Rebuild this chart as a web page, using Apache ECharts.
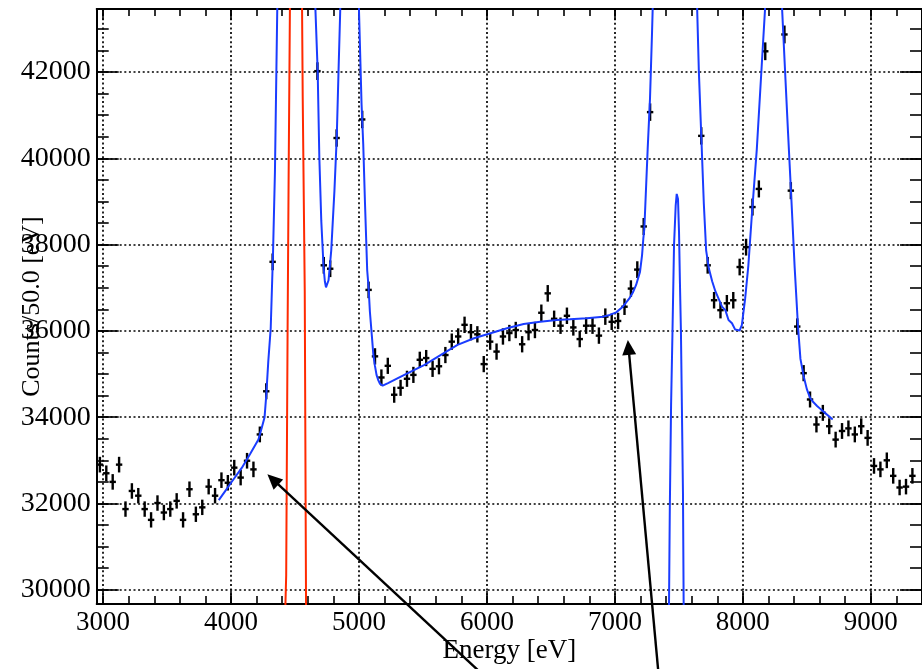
<!DOCTYPE html>
<html>
<head>
<meta charset="utf-8">
<title>Energy spectrum fit</title>
<script src="https://cdn.jsdelivr.net/npm/echarts@6.0.0/dist/echarts.min.js"></script>
<style>
  html, body { margin: 0; padding: 0; background: #ffffff; }
  #chart { width: 922px; height: 669px; }
</style>
</head>
<body>
<div id="chart"></div>
<script>
// ---- Histogram: bin centres [eV] and counts per 50 eV bin (null = above the plotted range)
const binWidth = 50;
const energies = [
  2975, 3025, 3075, 3125, 3175, 3225, 3275, 3325, 3375, 3425,
  3475, 3525, 3575, 3625, 3675, 3725, 3775, 3825, 3875, 3925,
  3975, 4025, 4075, 4125, 4175, 4225, 4275, 4325, 4375, 4425,
  4475, 4525, 4575, 4625, 4675, 4725, 4775, 4825, 4875, 4925,
  4975, 5025, 5075, 5125, 5175, 5225, 5275, 5325, 5375, 5425,
  5475, 5525, 5575, 5625, 5675, 5725, 5775, 5825, 5875, 5925,
  5975, 6025, 6075, 6125, 6175, 6225, 6275, 6325, 6375, 6425,
  6475, 6525, 6575, 6625, 6675, 6725, 6775, 6825, 6875, 6925,
  6975, 7025, 7075, 7125, 7175, 7225, 7275, 7325, 7375, 7425,
  7475, 7525, 7575, 7625, 7675, 7725, 7775, 7825, 7875, 7925,
  7975, 8025, 8075, 8125, 8175, 8225, 8275, 8325, 8375, 8425,
  8475, 8525, 8575, 8625, 8675, 8725, 8775, 8825, 8875, 8925,
  8975, 9025, 9075, 9125, 9175, 9225, 9275, 9325
];
const counts = [
  32900, 32700, 32500, 32900, 31870, 32290, 32180, 31870, 31620, 32010,
  31790, 31870, 32060, 31620, 32330, 31750, 31910, 32390, 32180, 32540,
  32480, 32830, 32600, 32990, 32790, 33600, 34600, 37600, null, null,
  null, null, null, null, 42020, 37520, 37440, 40470, null, null,
  null, 40900, 36950, 35410, 34920, 35190, 34520, 34680, 34890, 34980,
  35330, 35370, 35120, 35180, 35440, 35750, 35870, 36140, 35970, 35920,
  35230, 35750, 35520, 35870, 35950, 36020, 35690, 35970, 36020, 36420,
  36870, 36280, 36120, 36350, 36080, 35810, 36120, 36120, 35890, 36330,
  36210, 36230, 36560, 36980, 37420, 38420, 41070, null, null, null,
  null, null, null, null, 40520, 37520, 36710, 36480, 36640, 36710,
  37480, 37940, 38870, 39290, 42480, null, null, 42870, 39250, 36100,
  35020, 34410, 33830, 34100, 33790, 33480, 33680, 33740, 33600, 33790,
  33520, 32870, 32790, 33000, 32640, 32370, 32390, 32640
];

// ---- Total fit function (blue), sampled; null breaks the curve
const fitEnergy = [
  3904, 3950, 4000, 4085, 4150, 4214, 4240, 4262, 4275, 4291, 4310, 4328, 4343, 4361, 4375,
  4645, 4659, 4677, 4690, 4705, 4723, 4733, 4742, 4752, 4762, 4783, 4808, 4826, 4840, 4853, 4866,
  4988, 5000, 5020, 5033, 5047, 5064, 5075, 5085, 5100, 5112, 5124, 5137, 5150, 5165, 5185, 5227,
  5300, 5382, 5512, 5640, 5770, 5899, 6028, 6157, 6287, 6416, 6545, 6648, 6780, 6907, 6960, 7010,
  7062, 7113, 7140, 7165, 7196, 7212, 7222, 7230, 7256, 7274, 7290, 7295, 7302,
  7360,
  7415, 7423, 7429, 7439, 7450, 7462, 7475, 7483, 7493, 7501, 7508, 7516, 7532, 7537, 7545,
  7590,
  7635, 7643, 7656, 7675, 7695, 7713, 7734, 7760, 7785, 7837, 7863, 7888, 7915, 7940, 7955, 7975,
  7992, 8018, 8043, 8070, 8109, 8147, 8173, 8185,
  8295, 8307, 8328, 8353, 8380, 8405, 8431, 8450, 8475, 8500, 8525, 8550, 8580, 8612, 8702
];
const fitCounts = [
  32076, 32270, 32480, 32830, 33150, 33483, 33753, 34000, 34500, 35292, 36060, 37800, 39682, 43430, 46300,
  46300, 43480, 42020, 40020, 38560, 37480, 37150, 37010, 37040, 37174, 37866, 39250, 40481, 42020, 43400, 46000,
  46000, 43400, 41250, 40330, 38940, 37405, 37000, 36450, 35900, 35450, 35200, 34980, 34860, 34770, 34730, 34790,
  34900, 35022, 35213, 35444, 35675, 35829, 35945, 36060, 36160, 36214, 36251, 36267, 36290, 36330, 36370, 36429,
  36561, 36752, 36890, 37059, 37368, 37751, 38136, 38367, 40212, 41365, 42903, 43440, 45000,
  null,
  28000, 29755, 31868, 34291, 35984, 37982, 38904, 39175, 39059, 38291, 37137, 35984, 32215, 29755, 28000,
  null,
  45000, 43440, 42020, 40519, 38940, 37866, 37450, 37150, 36920, 36561, 36482, 36251, 36175, 36030, 35984, 36010,
  36136, 36752, 37520, 38674, 40212, 42133, 43440, 45500,
  45500, 43440, 42133, 40600, 39000, 37460, 36100, 35350, 34950, 34650, 34450, 34350, 34260, 34175, 33945
];

// ---- Single narrow component (red)
const peakEnergy = [4415, 4425, 4431, 4442, 4450, 4460, 4470, 4545, 4555, 4560, 4576, 4586, 4596];
const peakCounts = [27000, 29670, 30340, 36060, 39590, 43460, 46000, 46000, 43460, 41430, 36910, 29670, 27000];

// ---- Annotation arrows: tail and tip in data coordinates
const arrowTails = [[6068, 27755], [7350, 27755]];
const arrowTips = [[4284, 32676], [7101, 35790]];

// ---- Axes
const xRange = [2950, 9400];
const yRange = [29670, 43460];
const xTickValues = [3000, 4000, 5000, 6000, 7000, 8000, 9000];
const yTickValues = [30000, 32000, 34000, 36000, 38000, 40000, 42000];
const xMinorStep = 200;
const yMinorStep = 500;

const xMinorValues = [];
for (let v = 3000; v <= xRange[1]; v += xMinorStep) xMinorValues.push(v);
const yMinorValues = [];
for (let v = 30000; v <= yRange[1]; v += yMinorStep) yMinorValues.push(v);

const FONT = 'Liberation Serif';
const BLACK = '#000000';

const histData = [];
energies.forEach((e, i) => { if (counts[i] !== null) histData.push([e, counts[i]]); });
const fitData = fitEnergy.map((e, i) => [e, fitCounts[i]]);
const peakData = peakEnergy.map((e, i) => [e, peakCounts[i]]);
const arrowData = arrowTails.map((t, i) => [t[0], t[1], arrowTips[i][0], arrowTips[i][1]]);

function plainNumber(v) { return String(v); }

function frameAxis(dim, position, opts) {
  const isX = dim === 'x';
  return Object.assign({
    type: 'value',
    position: position,
    min: isX ? xRange[0] : yRange[0],
    max: isX ? xRange[1] : yRange[1],
    axisLine: { show: false },
    axisTick: { show: false },
    axisLabel: { show: false },
    splitLine: { show: false },
    minorTick: { show: false },
    minorSplitLine: { show: false }
  }, opts);
}

const axisLineStyle = { show: true, lineStyle: { color: BLACK, width: 2 } };
const tickStyle = { color: BLACK, width: 1.6 };

const xAxes = [
  frameAxis('x', 'bottom', {
    axisLine: axisLineStyle,
    axisTick: { show: true, inside: true, length: 13, customValues: xTickValues, lineStyle: tickStyle },
    axisLabel: {
      show: true, customValues: xTickValues, formatter: plainNumber,
      fontFamily: FONT, fontSize: 27, color: BLACK, margin: 5
    },
    splitLine: { show: true, lineStyle: { color: BLACK, width: 1.7, type: [2, 2.6] } },
    name: 'Energy [eV]',
    nameLocation: 'middle',
    nameGap: 33,
    nameMoveOverlap: false,
    nameTextStyle: { fontFamily: FONT, fontSize: 27, color: BLACK }
  }),
  frameAxis('x', 'bottom', {
    axisTick: { show: true, inside: true, length: 8, customValues: xMinorValues, lineStyle: tickStyle }
  }),
  frameAxis('x', 'top', {
    axisLine: axisLineStyle,
    axisTick: { show: true, inside: true, length: 11, customValues: xTickValues, lineStyle: tickStyle }
  }),
  frameAxis('x', 'top', {
    axisTick: { show: true, inside: true, length: 7, customValues: xMinorValues, lineStyle: tickStyle }
  })
];

const yAxes = [
  frameAxis('y', 'left', {
    axisLine: axisLineStyle,
    axisTick: { show: true, inside: true, length: 22, customValues: yTickValues, lineStyle: tickStyle },
    axisLabel: {
      show: true, customValues: yTickValues, formatter: plainNumber,
      fontFamily: FONT, fontSize: 28, color: BLACK, margin: 6
    },
    splitLine: { show: true, lineStyle: { color: BLACK, width: 1.7, type: [2, 2.6] } },
    name: 'Counts/50.0 [eV]',
    nameLocation: 'middle',
    nameGap: 52,
    nameMoveOverlap: false,
    nameTextStyle: { fontFamily: FONT, fontSize: 26, color: BLACK }
  }),
  frameAxis('y', 'left', {
    axisTick: { show: true, inside: true, length: 12, customValues: yMinorValues, lineStyle: tickStyle }
  }),
  frameAxis('y', 'right', {
    axisLine: axisLineStyle,
    axisTick: { show: true, inside: true, length: 22, customValues: yTickValues, lineStyle: tickStyle }
  }),
  frameAxis('y', 'right', {
    axisTick: { show: true, inside: true, length: 12, customValues: yMinorValues, lineStyle: tickStyle }
  })
];

// Data points drawn as crosses: bin width horizontally, sqrt(N) vertically
function renderPoint(params, api) {
  const e = api.value(0);
  const c = api.value(1);
  const err = Math.sqrt(c);
  const up = api.coord([e, c + err]);
  const down = api.coord([e, c - err]);
  const left = api.coord([e - binWidth / 2, c]);
  const right = api.coord([e + binWidth / 2, c]);
  const style = { stroke: BLACK, lineWidth: 2.4 };
  return {
    type: 'group',
    children: [
      { type: 'line', shape: { x1: up[0], y1: up[1], x2: down[0], y2: down[1] }, style: style },
      { type: 'line', shape: { x1: left[0], y1: left[1], x2: right[0], y2: right[1] }, style: style }
    ]
  };
}

function renderArrow(params, api) {
  const tail = api.coord([api.value(0), api.value(1)]);
  const tip = api.coord([api.value(2), api.value(3)]);
  const dx = tip[0] - tail[0];
  const dy = tip[1] - tail[1];
  const len = Math.hypot(dx, dy);
  const ux = dx / len, uy = dy / len;
  const headLen = 15, headHalf = 7;
  const bx = tip[0] - ux * headLen;
  const by = tip[1] - uy * headLen;
  return {
    type: 'group',
    children: [
      { type: 'line', shape: { x1: tail[0], y1: tail[1], x2: bx + ux * 2, y2: by + uy * 2 }, style: { stroke: BLACK, lineWidth: 2.4 } },
      {
        type: 'polygon',
        shape: { points: [tip, [bx - uy * headHalf, by + ux * headHalf], [bx + uy * headHalf, by - ux * headHalf]] },
        style: { fill: BLACK }
      }
    ]
  };
}

const chart = echarts.init(document.getElementById('chart'), null, { renderer: 'canvas' });
chart.setOption({
  backgroundColor: '#ffffff',
  animation: false,
  grid: { left: 96.7, top: 9, width: 832, height: 598, containLabel: false },
  xAxis: xAxes,
  yAxis: yAxes,
  series: [
    {
      type: 'custom',
      name: 'data',
      xAxisIndex: 0, yAxisIndex: 0,
      clip: true,
      data: histData,
      renderItem: renderPoint,
      z: 3
    },
    {
      type: 'line',
      name: 'fit',
      xAxisIndex: 0, yAxisIndex: 0,
      data: fitData,
      showSymbol: false,
      symbol: 'none',
      connectNulls: false,
      clip: true,
      lineStyle: { color: '#1a3cff', width: 2 },
      z: 4
    },
    {
      type: 'line',
      name: 'component',
      xAxisIndex: 0, yAxisIndex: 0,
      data: peakData,
      showSymbol: false,
      symbol: 'none',
      clip: true,
      lineStyle: { color: '#ff2a00', width: 2 },
      z: 5
    },
    {
      type: 'custom',
      name: 'arrows',
      xAxisIndex: 0, yAxisIndex: 0,
      clip: false,
      data: arrowData,
      encode: { x: [0, 2], y: [1, 3] },
      renderItem: renderArrow,
      z: 6
    }
  ]
});
</script>
</body>
</html>
